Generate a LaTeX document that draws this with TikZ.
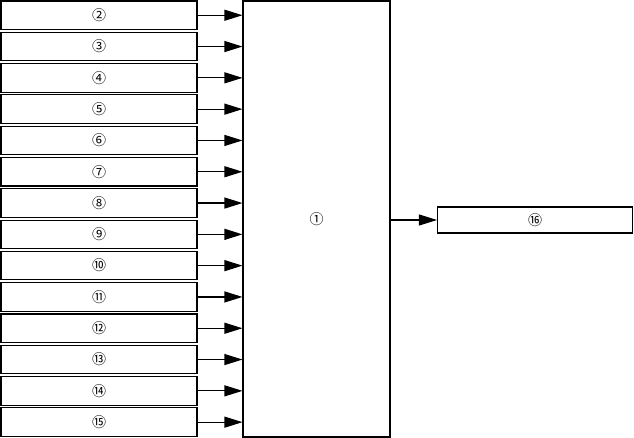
\documentclass[tikz,border=0pt]{standalone}
\usepackage{fontspec}
\usepackage{tikz}
\usetikzlibrary{arrows.meta, positioning}
\newfontfamily\circfont{Noto Sans CJK JP}
\tikzset{
  % input boxes on the left
  inbox/.style={
    draw=black, fill=white, line width=1.1pt,
    minimum width=196pt, minimum height=28.5pt,
    inner sep=0pt, font=\circfont\fontsize{14}{16}\selectfont,
  },
  % central unit
  corebox/.style={
    draw=black, fill=white, line width=1.1pt,
    minimum width=147pt, minimum height=436pt,
    inner sep=0pt, font=\circfont\fontsize{14}{16}\selectfont,
  },
  % output box
  outbox/.style={
    draw=black, fill=white, line width=1.1pt,
    minimum width=195pt, minimum height=26pt,
    inner sep=0pt, font=\circfont\fontsize{14}{16}\selectfont,
  },
  % arrows
  feed/.style={-{Triangle[length=18pt, width=11pt]}, line width=1.1pt, black},
}

\begin{document}
\begin{tikzpicture}[x=1pt, y=-1pt]
\useasboundingbox (0,0) rectangle (634,438);

% central unit
\node[corebox] (core) at (316.5,219) {①};

% input boxes
\foreach \i/\lab [count=\k from 0] in {2/②, 3/③, 4/④, 5/⑤, 6/⑥, 7/⑦, 8/⑧,
    9/⑨, 10/⑩, 11/⑪, 12/⑫, 13/⑬, 14/⑭, 15/⑮} {
  \node[inbox] (in\i) at (99, 15.25 + 31.3*\k) {\lab};
  \draw[feed] (in\i.east) -- (in\i.east -| core.west);
}

% output box
\node[outbox] (out) at (535,220) {⑯};
\draw[feed] (core.east |- out.west) -- (out.west);

\end{tikzpicture}
\end{document}
